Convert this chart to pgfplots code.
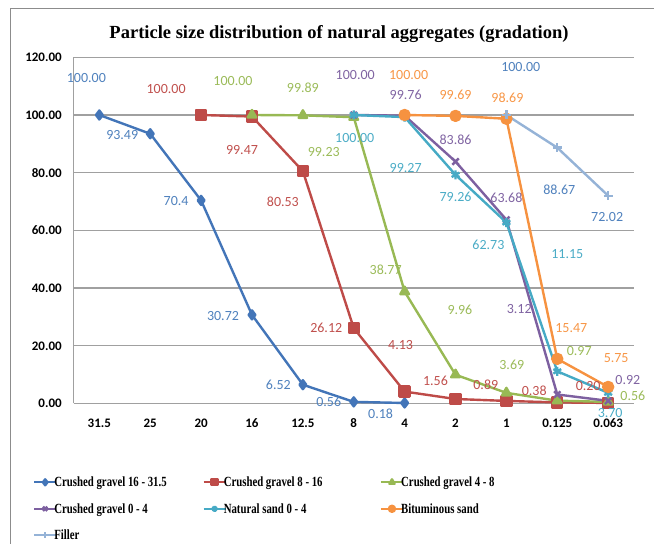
\documentclass[border=0pt]{standalone}
\usepackage{fontspec}
\setmainfont{Liberation Serif}
\newfontfamily\numfont{Carlito}
\newfontfamily\legfont{Liberation Serif}[FakeStretch=0.77]
\usepackage{pgfplots}
\pgfplotsset{compat=1.18}

\definecolor{cBlue}{HTML}{4375B8}
\definecolor{lBlue}{HTML}{4F81BD}
\definecolor{cRed}{HTML}{BE4B48}
\definecolor{lRed}{HTML}{C0504D}
\definecolor{cGreen}{HTML}{98B954}
\definecolor{lGreen}{HTML}{9BBB59}
\definecolor{cPurple}{HTML}{7D60A0}
\definecolor{lPurple}{HTML}{8064A2}
\definecolor{cCyan}{HTML}{46AAC5}
\definecolor{lCyan}{HTML}{4BACC6}
\definecolor{cOrange}{HTML}{F69240}
\definecolor{lOrange}{HTML}{F79646}
\definecolor{cFiller}{HTML}{95B3D7}
\definecolor{gridgray}{HTML}{A0A0A0}
\definecolor{framegray}{HTML}{8C8C8C}

% data label offsets (dx, dy) are in bp from the point
\pgfplotsset{
  lbl/.style={
    nodes near coords,
    point meta=explicit symbolic,
    visualization depends on={\thisrow{dx}\as\labx},
    visualization depends on={\thisrow{dy}\as\laby},
    every node near coord/.append style={anchor=center, inner sep=0pt,
      xshift=\labx*1bp, yshift=\laby*1bp,
      font={\numfont\fontsize{14bp}{16bp}\selectfont}, text=#1},
  },
  serie/.style={color=#1, line width=2.4bp, line join=round, mark options={solid}},
}

\begin{document}
\begin{tikzpicture}
\useasboundingbox (0,0) rectangle (654bp,544bp);
\draw[color=framegray, line width=1bp] (10bp,-10bp) -- (10bp,535bp) -- (680bp,535bp);
\node[font={\bfseries\fontsize{18.5bp}{22bp}\selectfont}, anchor=base] at (339bp,505bp)
  {Particle size distribution of natural aggregates (gradation)};

\begin{axis}[
  at={(73.9bp,140.5bp)}, anchor=south west,
  scale only axis, width=559.7bp, height=346.2bp,
  xmin=-0.5, xmax=10.5, ymin=0, ymax=120,
  xtick={0,...,10},
  xticklabels={31.5,25,20,16,12.5,8,4,2,1,0.125,0.063},
  ytick={0,20,...,120},
  axis x line*=bottom, axis y line*=left,
  axis line style={-, draw=gridgray, line width=1bp},
  major tick length=0pt, tick style={draw=none},
  ymajorgrids, major grid style={draw=gridgray, line width=1.2bp},
  tick label style={font={\numfont\bfseries\fontsize{13bp}{15bp}\selectfont}, text=black},
  /pgf/number format/assume math mode=true,
  yticklabel style={/pgf/number format/fixed, /pgf/number format/fixed zerofill,
    /pgf/number format/precision=2, anchor=east, inner sep=0pt, xshift=-12bp},
  xticklabel style={anchor=center, inner sep=0pt, yshift=-19.5bp},
  clip=false,
  legend columns=3,
  legend style={at={(-0.0731,-0.2123)}, anchor=north west, draw=none, fill=none,
    inner sep=0pt, outer sep=0pt, row sep=13.5bp, column sep=0pt,
    font={\legfont\bfseries\fontsize{14bp}{15bp}\selectfont},
    nodes={inner sep=0pt, text height=10bp, text depth=3bp}},
  legend cell align=left,
  legend image post style={mark size=3bp},
  legend image code/.code={
    \draw[mark repeat=2, mark phase=2, #1]
      plot coordinates {(0bp,1.2bp) (11bp,1.2bp) (22bp,1.2bp)};},
]

\addplot[serie=cBlue, mark=diamond*, mark size=4.5bp, lbl=lBlue] table[meta=lbl] {
x y lbl dx dy
0 100 100.00 -13 37
1 93.49 93.49 -28 -1
2 70.4 70.4 -25 -1
3 30.72 30.72 -29 -1
4 6.52 6.52 -24.5 0
5 0.56 0.56 -25 0
6 0.18 0.18 -24 -10.5
};
\addlegendentry{\kern-3bp\makebox[148bp][l]{Crushed gravel 16 - 31.5}}

\addplot[serie=cRed, mark=square*, mark size=5bp, lbl=lRed] table[meta=lbl] {
x y lbl dx dy
2 100 100.00 -35 26
3 99.47 99.47 -10 -33
4 80.53 80.53 -20 -30.6
5 26.12 26.12 -27.5 0
6 4.13 4.13 -4 47
7 1.56 1.56 -20 18
8 0.89 0.89 -20.6 16.5
9 0.38 0.38 -23 12
10 0.20 0.20 -20 17
};
\addlegendentry{\kern-3bp\makebox[156bp][l]{Crushed gravel 8 - 16}}

\addplot[serie=cGreen, mark=triangle*, mark size=5bp, lbl=lGreen] table[meta=lbl] {
x y lbl dx dy
3 100 100.00 -19 34
4 99.89 99.89 0 28
5 99.23 99.23 -30 -34.6
6 38.77 38.77 -19 22
7 9.96 9.96 4.4 65
8 3.69 3.69 5.4 28
9 0.97 0.97 22 49.5
10 0.56 0.56 24.7 6
};
\addlegendentry{\kern-3bp Crushed gravel 4 - 8}

\addplot[serie=cPurple, mark=x, mark size=4.5bp, lbl=lPurple] table[meta=lbl] {
x y lbl dx dy
5 100 100.00 1.5 40
6 99.76 99.76 1 20.7
7 83.86 83.86 0 21.5
8 63.68 63.68 0 21.6
9 3.12 3.12 -38 85
10 0.92 0.92 19.7 21
};
\addlegendentry{\kern-3bp\makebox[148bp][l]{Crushed gravel 0 - 4}}

\addplot[serie=cCyan, mark=asterisk, mark size=4.5bp, lbl=lCyan] table[meta=lbl] {
x y lbl dx dy
5 100 100.00 1 -22.7
6 99.27 99.27 1 -51.4
7 79.26 79.26 0 -22
8 62.73 62.73 -18 -22.4
9 11.15 11.15 10 117
10 3.70 3.70 2 -20
};
\addlegendentry{\kern-3bp\makebox[156bp][l]{Natural sand 0 - 4}}

\addplot[serie=cOrange, mark=*, mark size=5bp, lbl=lOrange] table[meta=lbl] {
x y lbl dx dy
6 100 100.00 4 40
7 99.69 99.69 0 21
8 98.69 98.69 1 21
9 15.47 15.47 14 31
10 5.75 5.75 8 29
};
\addlegendentry{\kern-3bp Bituminous sand}

\addplot[serie=cFiller, mark=+, mark size=4.5bp, lbl=lBlue] table[meta=lbl] {
x y lbl dx dy
8 100 100.00 14.4 47.7
9 88.67 88.67 2 -42
10 72.02 72.02 -1 -21
};
\addlegendentry{\kern-3bp Filler}

\end{axis}
\end{tikzpicture}
\end{document}
